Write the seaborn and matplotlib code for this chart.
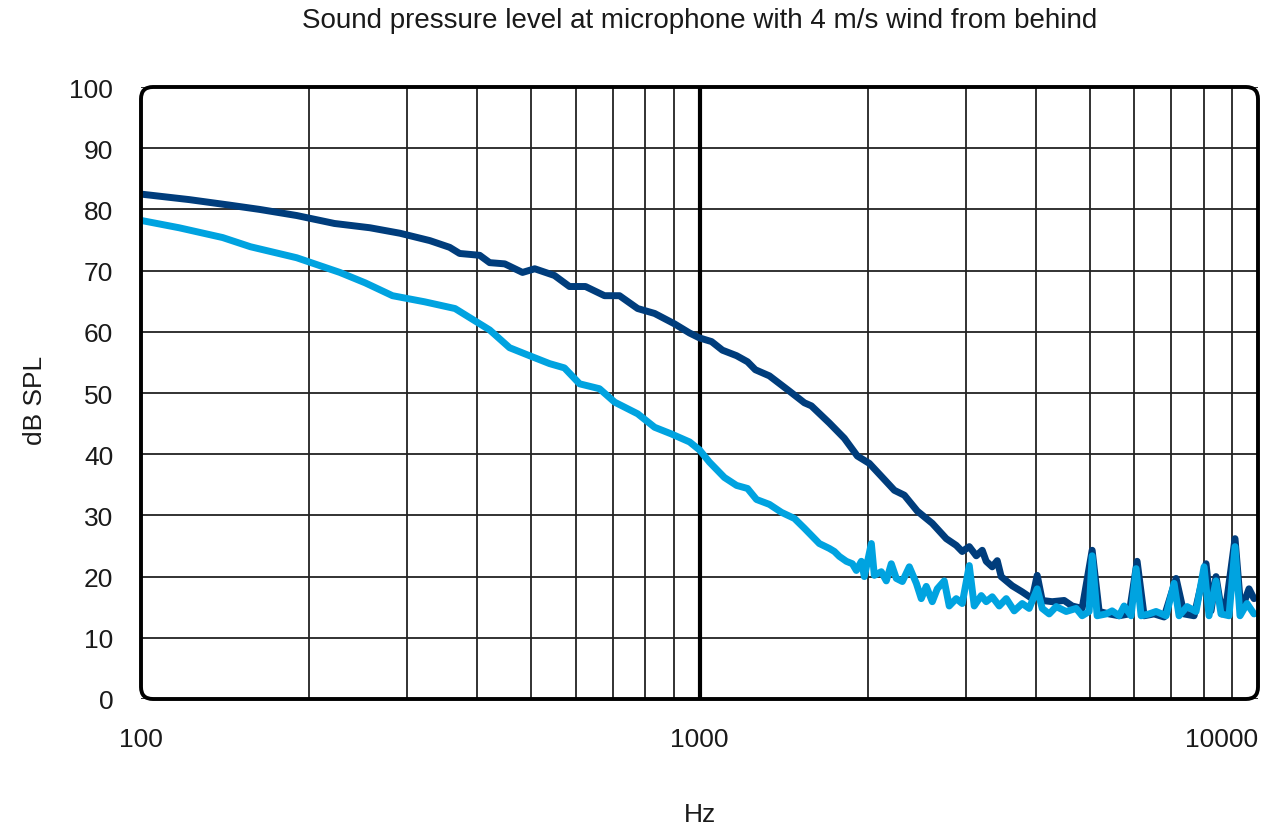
import matplotlib
matplotlib.use("Agg")
import matplotlib.pyplot as plt
import seaborn as sns
from matplotlib.patches import FancyBboxPatch
from matplotlib.ticker import FixedLocator, NullFormatter

# values (Hz, dB SPL)
dark_hz = [100, 122, 144, 163, 190, 222, 257, 291, 329, 357, 372, 404, 421, 448, 482, 507, 550, 585, 625, 676,
           719, 775, 831, 902, 960, 1000, 1051, 1099, 1165, 1219, 1259, 1334, 1449, 1541, 1586, 1708, 1817, 1917,
           2014, 2116, 2233, 2327, 2455, 2611, 2766, 2882, 2954, 3041, 3130, 3208, 3261, 3343, 3413, 3469, 3630,
           3783, 3942, 4024, 4108, 4280, 4497, 4648, 4843, 5047, 5195, 5413, 5641, 5878, 6075, 6253, 6516, 6790,
           7134, 7373, 7683, 8072, 8240, 8411, 8622, 8801, 9096, 9324, 9636, 9837]
dark_db = [82.5, 81.6, 80.7, 80.0, 79.0, 77.7, 77.0, 76.1, 74.9, 73.8, 72.8, 72.5, 71.3, 71.1, 69.7, 70.3, 69.2,
           67.4, 67.4, 65.9, 65.9, 63.8, 63.0, 61.3, 59.8, 59.0, 58.4, 57.0, 56.1, 55.1, 53.8, 52.8, 50.3, 48.4,
           47.9, 45.1, 42.6, 39.7, 38.5, 36.4, 34.1, 33.3, 30.7, 28.7, 26.2, 25.1, 24.1, 24.9, 23.4, 24.3, 22.5,
           21.6, 22.6, 20.0, 18.5, 17.5, 16.4, 20.2, 16.1, 15.9, 16.1, 15.2, 14.8, 24.3, 14.3, 13.9, 13.6, 13.9,
           22.5, 13.6, 13.9, 13.4, 19.7, 13.9, 13.6, 22.1, 14.4, 20.0, 13.9, 16.4, 26.2, 14.4, 18.0, 16.4]

light_hz = [100, 117, 140, 157, 190, 227, 252, 282, 322, 365, 421, 457, 496, 539, 573, 610, 662, 705, 775, 831,
            891, 960, 1000, 1042, 1108, 1165, 1219, 1265, 1334, 1402, 1479, 1541, 1639, 1708, 1744, 1780, 1832,
            1878, 1909, 1949, 1973, 2031, 2056, 2116, 2160, 2205, 2251, 2308, 2375, 2445, 2495, 2547, 2611, 2665,
            2743, 2800, 2882, 2954, 3041, 3104, 3195, 3261, 3343, 3441, 3542, 3660, 3783, 3893, 4024, 4108, 4228,
            4352, 4535, 4725, 4843, 4985, 5047, 5152, 5347, 5480, 5641, 5758, 5927, 6050, 6176, 6383, 6569, 6846,
            7075, 7222, 7464, 7746, 8006, 8172, 8411, 8586, 8874, 9096, 9285, 9557, 9837]
light_db = [78.2, 77.0, 75.4, 73.9, 72.1, 69.7, 68.0, 65.9, 64.9, 63.8, 60.3, 57.4, 56.1, 54.8, 54.1, 51.5, 50.7,
            48.5, 46.6, 44.4, 43.3, 42.0, 40.7, 38.7, 36.2, 34.9, 34.4, 32.6, 31.8, 30.5, 29.5, 27.9, 25.4, 24.6,
            24.1, 23.3, 22.5, 22.1, 21.0, 22.5, 20.0, 25.4, 20.2, 20.8, 19.3, 22.1, 19.7, 19.2, 21.6, 18.9, 16.4,
            18.4, 15.9, 18.0, 19.3, 15.2, 16.4, 15.6, 21.8, 15.2, 16.9, 15.9, 16.7, 15.2, 16.4, 14.4, 15.6, 14.8,
            18.0, 14.8, 13.9, 15.1, 14.3, 14.8, 13.6, 14.3, 23.4, 13.6, 13.9, 14.4, 13.6, 15.2, 13.6, 21.3, 13.6,
            13.9, 14.3, 13.6, 18.9, 13.6, 15.1, 14.3, 21.6, 13.6, 19.3, 13.9, 13.6, 24.9, 13.6, 15.6, 13.9]

x_ticks = [100, 1000, 10000]
x_labels = ["100", "1000", "10000"]
y_ticks = list(range(0, 101, 10))

sns.set_theme(style="white")
plt.rcParams['font.family'] = ['Liberation Sans', 'DejaVu Sans']
text_color = "#1a1a1a"

fig = plt.figure(figsize=(12.64, 8.28), dpi=100)
ax = fig.add_axes([141 / 1264, 128 / 828, 1117 / 1264, 612 / 828])

sns.lineplot(x=dark_hz, y=dark_db, ax=ax, color="#003d7c", linewidth=5, sort=False, zorder=3)
sns.lineplot(x=light_hz, y=light_db, ax=ax, color="#00a3e0", linewidth=5, sort=False, zorder=4)

ax.set_xscale("log")
ax.set_xlim(100, 10000)
ax.set_ylim(0, 100)
ax.set_yticks(y_ticks)
ax.set_xticks(x_ticks)
ax.set_xticklabels(x_labels)
ax.xaxis.set_minor_locator(FixedLocator([m * d for d in (100, 1000) for m in range(2, 10)]))
ax.xaxis.set_minor_formatter(NullFormatter())
ax.get_xticklabels()[-1].set_horizontalalignment("right")
ax.tick_params(axis="both", which="both", length=0, labelsize=19, colors=text_color)
ax.tick_params(axis="x", pad=20)
ax.tick_params(axis="y", pad=20)

# grid: thin lines, heavier line at 1000 Hz
ax.grid(True, which="major", axis="y", color="#222222", linewidth=1.3)
ax.grid(True, which="minor", axis="x", color="#222222", linewidth=1.3)
ax.axvline(1000, color="black", linewidth=3, zorder=1)
ax.set_axisbelow(True)

# rounded black frame instead of spines
for s in ax.spines.values():
    s.set_visible(False)
frame = FancyBboxPatch((0, 0), 1, 1, boxstyle="round,pad=0,rounding_size=0.0107",
                       mutation_aspect=1117 / 612, transform=ax.transAxes,
                       fill=False, edgecolor="black", linewidth=2.8, clip_on=False, zorder=5)
ax.add_patch(frame)

ax.set_title("Sound pressure level at microphone with 4 m/s wind from behind",
             fontsize=20, color=text_color, pad=0, y=(700 - 21) / 612, va="center")
ax.set_xlabel("Hz", fontsize=19, color=text_color, va="center")
ax.xaxis.set_label_coords(0.5, (700 - 815) / 612)
ax.set_ylabel("dB SPL", fontsize=19, color=text_color, va="center")
ax.yaxis.set_label_coords((35 - 141) / 1117, 0.49)

fig.savefig("out.png", dpi=100)
